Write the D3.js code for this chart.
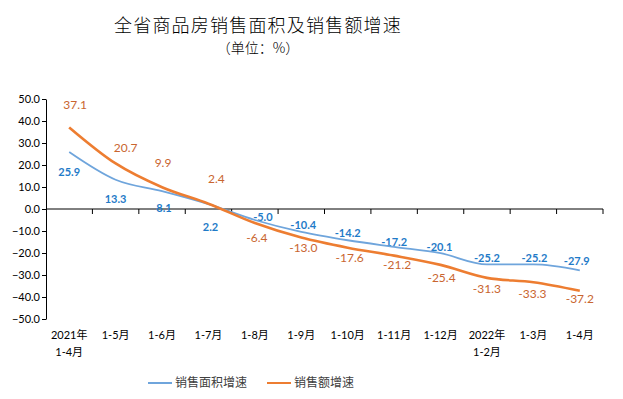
<!DOCTYPE html>
<html>
<head>
<meta charset="utf-8">
<script src="https://cdn.jsdelivr.net/npm/d3@7"></script>
<style>
  body { margin: 0; background: #fff; }
  text { font-family: Lato, "Noto Sans CJK SC", sans-serif; }
</style>
</head>
<body>
<div id="container"></div>
<script>
/* DATA */
const categories = ["2021年\n1-4月", "1-5月", "1-6月", "1-7月", "1-8月", "1-9月", "1-10月",
  "1-11月", "1-12月", "2022年\n1-2月", "1-3月", "1-4月"];
const areaGrowth = [25.9, 13.3, 8.1, 2.2, -5.0, -10.4, -14.2, -17.2, -20.1, -25.2, -25.2, -27.9];
const salesGrowth = [37.1, 20.7, 9.9, 2.4, -6.4, -13.0, -17.6, -21.2, -25.4, -31.3, -33.3, -37.2];
const yTicks = [50, 40, 30, 20, 10, 0, -10, -20, -30, -40, -50];
const seriesNames = ["销售面积增速", "销售额增速"];

// label nudges (px) so labels sit roughly where the original put them
const areaLabelDy = [20, 19, 17, 23, -3, -7, -7, -5, -6, -6, -6, -9];
const areaLabelDx = [0, 0, 2, 2, 8, 2, 0, 0, -1, 0, 1, -3];
const salesLabelDy = [-23, -16, -24, -25, 15, 10, 10, 9, 13, 11, 12, 8];
const salesLabelDx = [6, 10, 1, 8, 2, 2, 2, 3, 1, 0, -1, 0];

/* CONSTANTS */
const width = 623, height = 399;
const plot = {left: 46, right: 603, top: 99, bottom: 319};
const blueLine = "#6FA5DC", orangeLine = "#ED7D31";
const blueText = "#1F7BC8", orangeText = "#C9652F";

const svg = d3.select("#container").append("svg")
  .attr("width", width)
  .attr("height", height);

/* SCALES */
const xScale = d3.scaleBand()
  .domain(categories)
  .range([plot.left, plot.right]);

const yScale = d3.scaleLinear()
  .domain([-50, 50])
  .range([plot.bottom, plot.top]);

const cx = (d, i) => xScale(categories[i]) + xScale.bandwidth() / 2;

/* TITLE */
svg.append("text")
  .attr("x", 258).attr("y", 32)
  .attr("text-anchor", "middle")
  .style("font-family", "'Noto Sans CJK SC', sans-serif")
  .style("font-size", "18px")
  .style("font-weight", "300")
  .style("letter-spacing", "1.2px")
  .attr("fill", "#000")
  .text("全省商品房销售面积及销售额增速");

svg.append("text")
  .attr("x", 258).attr("y", 53)
  .attr("text-anchor", "middle")
  .style("font-family", "'Noto Sans CJK SC', sans-serif")
  .style("font-size", "14px")
  .style("font-weight", "300")
  .attr("fill", "#000")
  .text("（单位：%）");

/* AXES */
const yAxis = svg.append("g")
  .attr("transform", `translate(${plot.left},0)`)
  .call(d3.axisLeft(yScale).tickValues(yTicks).tickSize(4).tickSizeOuter(0)
    .tickFormat(d3.format(".1f")));
yAxis.select(".domain").attr("stroke", "#000");
yAxis.selectAll(".tick line").attr("stroke", "#000");
yAxis.selectAll("text")
  .attr("x", -6)
  .style("font-size", "11px")
  .attr("fill", "#000");

const xAxis = svg.append("g")
  .attr("transform", `translate(0,${yScale(0)})`);
xAxis.append("line")
  .attr("x1", plot.left).attr("x2", plot.right)
  .attr("stroke", "#000");
xAxis.selectAll(".xtick")
  .data(categories.slice(1).concat(["end"]))
  .join("line")
  .attr("class", "xtick")
  .attr("x1", (d, i) => plot.left + xScale.step() * (i + 1))
  .attr("x2", (d, i) => plot.left + xScale.step() * (i + 1))
  .attr("y1", 0).attr("y2", 5)
  .attr("stroke", "#000");

const catLabels = svg.append("g").selectAll("text")
  .data(categories)
  .join("text")
  .attr("x", cx)
  .attr("y", 339)
  .attr("text-anchor", "middle")
  .style("font-size", "11px")
  .attr("fill", "#000");
catLabels.each(function(d) {
  const parts = d.split("\n");
  const t = d3.select(this);
  parts.forEach((p, j) => {
    t.append("tspan")
      .attr("x", t.attr("x"))
      .attr("dy", j === 0 ? 0 : 17)
      .text(p);
  });
});

/* DATA LABELS (drawn before lines, as in the original) */
svg.append("g").selectAll("text")
  .data(areaGrowth)
  .join("text")
  .attr("x", (d, i) => cx(d, i) + areaLabelDx[i])
  .attr("y", (d, i) => yScale(d) + areaLabelDy[i])
  .attr("dy", "0.35em")
  .attr("text-anchor", "middle")
  .style("font-size", "11px")
  .style("font-weight", "bold")
  .attr("fill", blueText)
  .text(d => d.toFixed(1));

svg.append("g").selectAll("text")
  .data(salesGrowth)
  .join("text")
  .attr("x", (d, i) => cx(d, i) + salesLabelDx[i])
  .attr("y", (d, i) => yScale(d) + salesLabelDy[i])
  .attr("dy", "0.35em")
  .attr("text-anchor", "middle")
  .style("font-size", "12px")
  .attr("fill", orangeText)
  .text(d => d.toFixed(1));

/* LINES */
const line = d3.line()
  .x(cx)
  .y(d => yScale(d))
  .curve(d3.curveMonotoneX);

svg.append("path")
  .datum(areaGrowth)
  .attr("d", line)
  .attr("fill", "none")
  .attr("stroke", blueLine)
  .attr("stroke-width", 1.8);

svg.append("path")
  .datum(salesGrowth)
  .attr("d", line)
  .attr("fill", "none")
  .attr("stroke", orangeLine)
  .attr("stroke-width", 2.6);

/* LEGEND */
const legend = svg.append("g");
const legendItems = [
  {name: seriesNames[0], color: blueLine, x: 148},
  {name: seriesNames[1], color: orangeLine, x: 267}
];
legendItems.forEach(it => {
  legend.append("line")
    .attr("x1", it.x).attr("x2", it.x + 24)
    .attr("y1", 383).attr("y2", 383)
    .attr("stroke", it.color)
    .attr("stroke-width", 2);
  legend.append("text")
    .attr("x", it.x + 27).attr("y", 383)
    .attr("dy", "0.35em")
    .style("font-family", "'Noto Sans CJK SC', sans-serif")
    .style("font-size", "12px")
    .attr("fill", "#404040")
    .text(it.name);
});
</script>
</body>
</html>
